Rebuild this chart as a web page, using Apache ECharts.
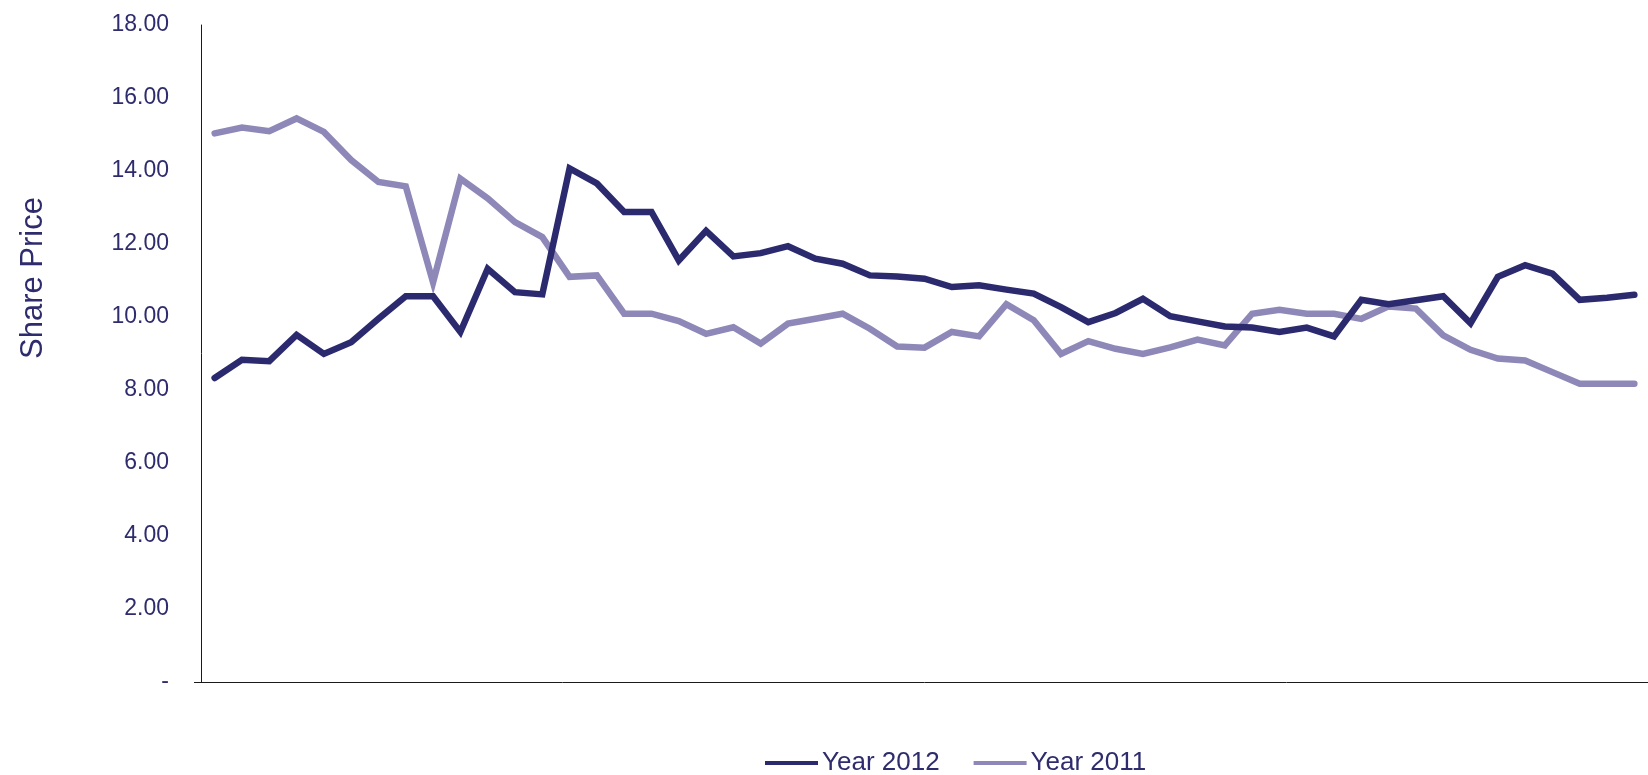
<!DOCTYPE html>
<html>
<head>
<meta charset="utf-8">
<title>Share Price</title>
<script src="https://cdn.jsdelivr.net/npm/echarts@6/dist/echarts.min.js"></script>
<style>
  html, body { margin: 0; padding: 0; background: #ffffff; }
  #chart { width: 1648px; height: 775px; }
</style>
</head>
<body>
<div id="chart"></div>
<script>
// Weekly share price, two years side by side (53 points each)
const periods = Array.from({ length: 53 }, (_, i) => 'W' + (i + 1));

const year2012 = [
  8.33, 8.83, 8.79, 9.51, 8.99, 9.31, 9.95, 10.57, 10.57, 9.59,
  11.32, 10.68, 10.62, 14.07, 13.66, 12.88, 12.88, 11.55, 12.36, 11.66,
  11.75, 11.94, 11.60, 11.46, 11.14, 11.11, 11.05, 10.82, 10.87, 10.75,
  10.64, 10.27, 9.86, 10.11, 10.50, 10.02, 9.88, 9.74, 9.71, 9.59,
  9.71, 9.47, 10.47, 10.35, 10.46, 10.57, 9.83, 11.10, 11.42, 11.19,
  10.47, 10.53, 10.61
];

const year2011 = [
  15.03, 15.19, 15.09, 15.44, 15.07, 14.30, 13.70, 13.58, 10.95, 13.79,
  13.25, 12.60, 12.19, 11.10, 11.14, 10.09, 10.09, 9.89, 9.54, 9.72,
  9.27, 9.82, 9.95, 10.09, 9.68, 9.19, 9.16, 9.59, 9.47, 10.35,
  9.91, 8.99, 9.34, 9.13, 8.99, 9.17, 9.38, 9.22, 10.09, 10.20,
  10.09, 10.09, 9.95, 10.29, 10.23, 9.50, 9.10, 8.86, 8.81, 8.49,
  8.17, 8.17, 8.17
];

const yTicks = { min: 0, max: 18, interval: 2 };

const DARK = '#2c2a6f';
const LIGHT = '#8e88b9';
const TEXT = '#2e2c6c';
const AXIS = '#1a1a1a';
const FONT = '"Liberation Sans", Arial, Helvetica, sans-serif';

const chart = echarts.init(document.getElementById('chart'), null, { renderer: 'canvas' });

chart.setOption({
  animation: false,
  backgroundColor: '#ffffff',
  grid: { left: 201, top: 25, width: 1454, height: 657, containLabel: false },
  legend: {
    left: 760,
    top: 745,
    icon: 'rect',
    itemWidth: 53,
    itemHeight: 4,
    itemGap: 34,
    data: ['Year 2012', 'Year 2011'],
    textStyle: { color: TEXT, fontFamily: FONT, fontSize: 26, padding: [0, 0, 0, -1] }
  },
  xAxis: {
    type: 'category',
    data: periods,
    boundaryGap: true,
    axisLine: { show: true, lineStyle: { color: AXIS, width: 1 } },
    axisTick: { show: false },
    axisLabel: { show: false },
    splitLine: { show: false }
  },
  yAxis: {
    type: 'value',
    min: yTicks.min,
    max: yTicks.max,
    interval: yTicks.interval,
    axisLine: { show: true, lineStyle: { color: AXIS, width: 1 } },
    axisTick: { show: false },
    splitLine: { show: false },
    axisLabel: {
      margin: 32,
      color: TEXT,
      fontFamily: FONT,
      fontSize: 23,
      formatter: v => (v === 0 ? '-' : v.toFixed(2))
    }
  },
  graphic: [
    {
      type: 'text',
      rotation: Math.PI / 2,
      style: {
        text: 'Share Price',
        fill: TEXT,
        font: '31px ' + FONT,
        textAlign: 'center',
        textVerticalAlign: 'middle'
      },
      x: 33,
      y: 278
    },
    {
      type: 'line',
      shape: { x1: 194, y1: 682.5, x2: 201, y2: 682.5 },
      style: { stroke: AXIS, lineWidth: 1 }
    }
  ],
  series: [
    {
      name: 'Year 2011',
      type: 'line',
      data: year2011,
      symbol: 'none',
      z: 2,
      lineStyle: { color: LIGHT, width: 6.5, cap: 'round', join: 'miter' },
      itemStyle: { color: LIGHT }
    },
    {
      name: 'Year 2012',
      type: 'line',
      data: year2012,
      symbol: 'none',
      z: 3,
      lineStyle: { color: DARK, width: 6.5, cap: 'round', join: 'miter' },
      itemStyle: { color: DARK }
    }
  ]
});
</script>
</body>
</html>
